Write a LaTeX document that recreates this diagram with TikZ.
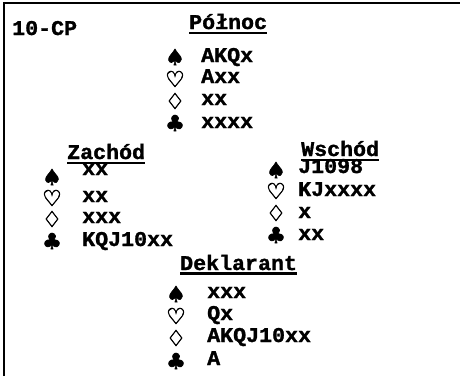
\documentclass[tikz,border=0pt]{standalone}
\usepackage{fontspec}
\usetikzlibrary{calc}
\newfontfamily\cardmono[UprightFont={* Bold},FakeStretch=1.03,FakeBold=1.4]{Liberation Mono}
\newfontfamily\suitfam[UprightFont={* Bold},FakeBold=2.5]{DejaVu Sans}
\begin{document}
\begin{tikzpicture}[x=1pt,y=-1pt,
  txt/.style={anchor=base west,inner sep=0pt,font=\cardmono\fontsize{21}{22}\selectfont},
  suitsym/.style={anchor=center,inner sep=0pt,font=\suitfam\fontsize{22}{23}\selectfont},
  uline/.style={line width=2.2pt},
  frameline/.style={line width=2.8pt}]
\useasboundingbox (0,0) rectangle (460,376);
% frame
\coordinate (tl) at (4,3);
\coordinate (tr) at (460,3);
\coordinate (bl) at (4,376);
\draw[frameline] (bl) -- (tl) -- (tr);
% title
\node[txt] (title) at (12,35) {10-CP};
% North
\node[txt] (hN) at (189,29) {Północ};
\draw[uline] ($(hN.base west)+(0,4)$) -- ($(hN.base east)+(0,4)$);
\node[suitsym] (nS) at (175,57) {♠};
\node[suitsym] (nH) at (175,79) {♡};
\node[suitsym] (nD) at (175,101) {♢};
\node[suitsym] (nC) at (175,123) {♣};
\node[txt] (nSt) at (201,62) {AKQx};
\node[txt] (nHt) at (201,83) {Axx};
\node[txt] (nDt) at (201,105) {xx};
\node[txt] (nCt) at (201,128) {xxxx};
% West
\node[txt] (hW) at (67,159) {Zachód};
\node[suitsym] (wS) at (52,177) {♠};
\node[suitsym] (wH) at (52,198) {♡};
\node[suitsym] (wD) at (52,219) {♢};
\node[suitsym] (wC) at (52,241) {♣};
\node[txt] (wSt) at (82,175) {xx};
\draw[uline] ($(hW.base west)+(0,4)$) -- ($(hW.base east)+(0,4)$);
\node[txt] (wHt) at (82,202) {xx};
\node[txt] (wDt) at (82,223) {xxx};
\node[txt] (wCt) at (82,246) {KQJ10xx};
% East
\node[txt] (hE) at (301,156) {Wschód};
\node[suitsym] (eS) at (276,170) {♠};
\node[suitsym] (eH) at (276,191) {♡};
\node[suitsym] (eD) at (276,213) {♢};
\node[suitsym] (eC) at (276,235) {♣};
\node[txt] (eSt) at (298,173) {J1098};
\draw[uline] ($(hE.base west)+(0,4)$) -- ($(hE.base east)+(0,4)$);
\node[txt] (eHt) at (298,196) {KJxxxx};
\node[txt] (eDt) at (298,218) {x};
\node[txt] (eCt) at (298,240) {xx};
% South
\node[txt] (hS) at (180,270) {Deklarant};
\draw[uline] ($(hS.base west)+(0,3.5)$) -- ($(hS.base east)+(0,3.5)$);
\node[suitsym] (sS) at (176,294) {♠};
\node[suitsym] (sH) at (176,316) {♡};
\node[suitsym] (sD) at (176,338) {♢};
\node[suitsym] (sC) at (176,361) {♣};
\node[txt] (sSt) at (207,298) {xxx};
\node[txt] (sHt) at (207,320) {Qx};
\node[txt] (sDt) at (207,342) {AKQJ10xx};
\node[txt] (sCt) at (207,365) {A};
\end{tikzpicture}
\end{document}
